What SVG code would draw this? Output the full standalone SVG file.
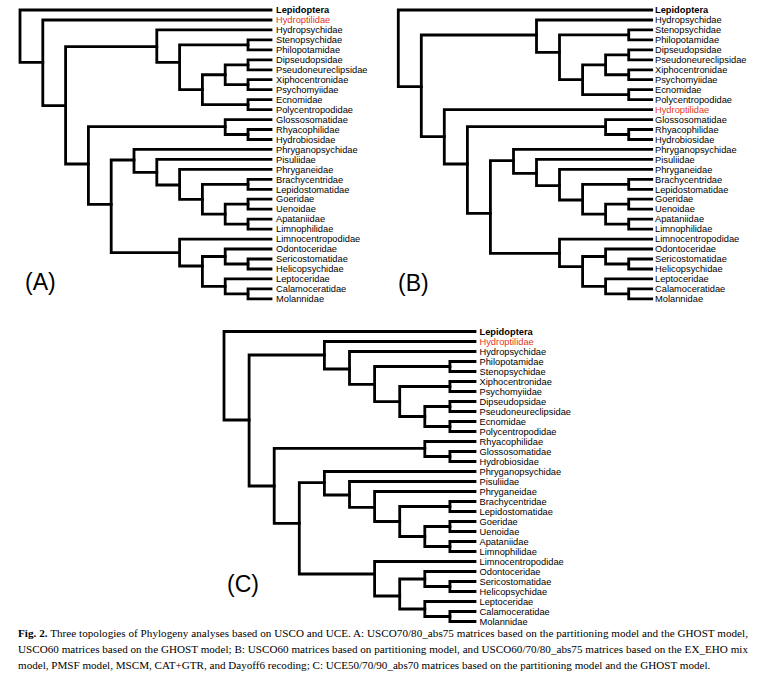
<svg xmlns="http://www.w3.org/2000/svg" width="765" height="689" viewBox="0 0 765 689">
<style>
.br{fill:none;stroke:#000;stroke-width:2.8;stroke-linejoin:miter;stroke-linecap:square}
.lf{font-family:"Liberation Sans",Arial,sans-serif;font-size:9.3px;fill:#000}
.out{font-weight:bold}
.red{fill:#e5361f}
.pl{font-family:"Liberation Sans",Arial,sans-serif;font-size:23px;fill:#000}
.cap{font-family:"Liberation Serif","Times New Roman",serif;font-size:11.1px;fill:#000}
</style>
<rect width="765" height="689" fill="#fff"/>
<g id="A-branches" class="br">
<path d="M271 10 H20 V62.3 H42.8"/>
<path d="M271 20 H42.8 V105.7 H65.6"/>
<path d="M156.8 46.7 H65.6 V164 H88.4"/>
<path d="M271 29.9 H156.8 V62.3 H179.6"/>
<path d="M248 44.9 H179.6 V89.7 H202.4"/>
<path d="M225.2 74.75 H202.4 V104.6 H248"/>
<path d="M248 64.8 H225.2 V84.7 H248"/>
<path d="M271 39.9 H248 V49.8 H271"/>
<path d="M271 59.8 H248 V69.8 H271"/>
<path d="M271 79.7 H248 V89.7 H271"/>
<path d="M271 99.6 H248 V109.6 H271"/>
<path d="M225.2 126.7 H88.4 V204.3 H111.2"/>
<path d="M271 119.6 H225.2 V134.5 H248"/>
<path d="M271 129.5 H248 V139.5 H271"/>
<path d="M134 160 H111.2 V252.7 H179.6"/>
<path d="M271 149.4 H134 V172.3 H156.8"/>
<path d="M271 159.4 H156.8 V185 H179.6"/>
<path d="M271 169.4 H179.6 V199.3 H202.4"/>
<path d="M248 184.3 H202.4 V214.2 H225.2"/>
<path d="M248 204.2 H225.2 V224.15 H248"/>
<path d="M271 179.3 H248 V189.3 H271"/>
<path d="M271 199.2 H248 V209.2 H271"/>
<path d="M271 219.2 H248 V229.1 H271"/>
<path d="M271 239.1 H179.6 V266 H202.4"/>
<path d="M225.2 256.5 H202.4 V286.4 H225.2"/>
<path d="M271 249 H225.2 V264 H248"/>
<path d="M271 259 H248 V269 H271"/>
<path d="M271 278.9 H225.2 V293.85 H248"/>
<path d="M271 288.9 H248 V298.8 H271"/>
</g>
<g id="A-leaves" class="lf">
<g id="A-Lepidoptera"><text x="276" y="13.2" class="out">Lepidoptera</text></g>
<g id="A-Hydroptilidae"><text x="276" y="23.2" class="red">Hydroptilidae</text></g>
<g id="A-Hydropsychidae"><text x="276" y="33.1">Hydropsychidae</text></g>
<g id="A-Stenopsychidae"><text x="276" y="43.1">Stenopsychidae</text></g>
<g id="A-Philopotamidae"><text x="276" y="53">Philopotamidae</text></g>
<g id="A-Dipseudopsidae"><text x="276" y="63">Dipseudopsidae</text></g>
<g id="A-Pseudoneureclipsidae"><text x="276" y="73">Pseudoneureclipsidae</text></g>
<g id="A-Xiphocentronidae"><text x="276" y="82.9">Xiphocentronidae</text></g>
<g id="A-Psychomyiidae"><text x="276" y="92.9">Psychomyiidae</text></g>
<g id="A-Ecnomidae"><text x="276" y="102.8">Ecnomidae</text></g>
<g id="A-Polycentropodidae"><text x="276" y="112.8">Polycentropodidae</text></g>
<g id="A-Glossosomatidae"><text x="276" y="122.8">Glossosomatidae</text></g>
<g id="A-Rhyacophilidae"><text x="276" y="132.7">Rhyacophilidae</text></g>
<g id="A-Hydrobiosidae"><text x="276" y="142.7">Hydrobiosidae</text></g>
<g id="A-Phryganopsychidae"><text x="276" y="152.6">Phryganopsychidae</text></g>
<g id="A-Pisuliidae"><text x="276" y="162.6">Pisuliidae</text></g>
<g id="A-Phryganeidae"><text x="276" y="172.6">Phryganeidae</text></g>
<g id="A-Brachycentridae"><text x="276" y="182.5">Brachycentridae</text></g>
<g id="A-Lepidostomatidae"><text x="276" y="192.5">Lepidostomatidae</text></g>
<g id="A-Goeridae"><text x="276" y="202.4">Goeridae</text></g>
<g id="A-Uenoidae"><text x="276" y="212.4">Uenoidae</text></g>
<g id="A-Apataniidae"><text x="276" y="222.4">Apataniidae</text></g>
<g id="A-Limnophilidae"><text x="276" y="232.3">Limnophilidae</text></g>
<g id="A-Limnocentropodidae"><text x="276" y="242.3">Limnocentropodidae</text></g>
<g id="A-Odontoceridae"><text x="276" y="252.2">Odontoceridae</text></g>
<g id="A-Sericostomatidae"><text x="276" y="262.2">Sericostomatidae</text></g>
<g id="A-Helicopsychidae"><text x="276" y="272.2">Helicopsychidae</text></g>
<g id="A-Leptoceridae"><text x="276" y="282.1">Leptoceridae</text></g>
<g id="A-Calamoceratidae"><text x="276" y="292.1">Calamoceratidae</text></g>
<g id="A-Molannidae"><text x="276" y="302">Molannidae</text></g>
</g>
<g id="A-label"><text x="25" y="290" class="pl">(A)</text></g>

<g id="B-branches" class="br">
<path d="M651.7 10 H398.3 V86.7 H421.3"/>
<path d="M536.5 35 H421.3 V136.7 H444.3"/>
<path d="M651.7 20 H536.5 V52.3 H559.5"/>
<path d="M628.7 34.9 H559.5 V79.7 H582.6"/>
<path d="M605.6 64.8 H582.6 V94.65 H628.7"/>
<path d="M628.7 54.8 H605.6 V74.75 H628.7"/>
<path d="M651.7 29.9 H628.7 V39.9 H651.7"/>
<path d="M651.7 49.8 H628.7 V59.8 H651.7"/>
<path d="M651.7 69.8 H628.7 V79.7 H651.7"/>
<path d="M651.7 89.7 H628.7 V99.6 H651.7"/>
<path d="M651.7 109.6 H444.3 V164 H467.4"/>
<path d="M605.6 126.7 H467.4 V213.3 H490.4"/>
<path d="M651.7 119.6 H605.6 V134.5 H628.7"/>
<path d="M651.7 129.5 H628.7 V139.5 H651.7"/>
<path d="M513.5 160.7 H490.4 V253.3 H559.5"/>
<path d="M651.7 149.4 H513.5 V173.3 H536.5"/>
<path d="M651.7 159.4 H536.5 V185.7 H559.5"/>
<path d="M651.7 169.4 H559.5 V200 H582.6"/>
<path d="M628.7 184.3 H582.6 V214.2 H605.6"/>
<path d="M628.7 204.2 H605.6 V224.15 H628.7"/>
<path d="M651.7 179.3 H628.7 V189.3 H651.7"/>
<path d="M651.7 199.2 H628.7 V209.2 H651.7"/>
<path d="M651.7 219.2 H628.7 V229.1 H651.7"/>
<path d="M651.7 239.1 H559.5 V266.7 H582.6"/>
<path d="M605.6 256.5 H582.6 V286.4 H605.6"/>
<path d="M651.7 249 H605.6 V264 H628.7"/>
<path d="M651.7 259 H628.7 V269 H651.7"/>
<path d="M651.7 278.9 H605.6 V293.85 H628.7"/>
<path d="M651.7 288.9 H628.7 V298.8 H651.7"/>
</g>
<g id="B-leaves" class="lf">
<g id="B-Lepidoptera"><text x="655" y="13.2" class="out">Lepidoptera</text></g>
<g id="B-Hydropsychidae"><text x="655" y="23.2">Hydropsychidae</text></g>
<g id="B-Stenopsychidae"><text x="655" y="33.1">Stenopsychidae</text></g>
<g id="B-Philopotamidae"><text x="655" y="43.1">Philopotamidae</text></g>
<g id="B-Dipseudopsidae"><text x="655" y="53">Dipseudopsidae</text></g>
<g id="B-Pseudoneureclipsidae"><text x="655" y="63">Pseudoneureclipsidae</text></g>
<g id="B-Xiphocentronidae"><text x="655" y="73">Xiphocentronidae</text></g>
<g id="B-Psychomyiidae"><text x="655" y="82.9">Psychomyiidae</text></g>
<g id="B-Ecnomidae"><text x="655" y="92.9">Ecnomidae</text></g>
<g id="B-Polycentropodidae"><text x="655" y="102.8">Polycentropodidae</text></g>
<g id="B-Hydroptilidae"><text x="655" y="112.8" class="red">Hydroptilidae</text></g>
<g id="B-Glossosomatidae"><text x="655" y="122.8">Glossosomatidae</text></g>
<g id="B-Rhyacophilidae"><text x="655" y="132.7">Rhyacophilidae</text></g>
<g id="B-Hydrobiosidae"><text x="655" y="142.7">Hydrobiosidae</text></g>
<g id="B-Phryganopsychidae"><text x="655" y="152.6">Phryganopsychidae</text></g>
<g id="B-Pisuliidae"><text x="655" y="162.6">Pisuliidae</text></g>
<g id="B-Phryganeidae"><text x="655" y="172.6">Phryganeidae</text></g>
<g id="B-Brachycentridae"><text x="655" y="182.5">Brachycentridae</text></g>
<g id="B-Lepidostomatidae"><text x="655" y="192.5">Lepidostomatidae</text></g>
<g id="B-Goeridae"><text x="655" y="202.4">Goeridae</text></g>
<g id="B-Uenoidae"><text x="655" y="212.4">Uenoidae</text></g>
<g id="B-Apataniidae"><text x="655" y="222.4">Apataniidae</text></g>
<g id="B-Limnophilidae"><text x="655" y="232.3">Limnophilidae</text></g>
<g id="B-Limnocentropodidae"><text x="655" y="242.3">Limnocentropodidae</text></g>
<g id="B-Odontoceridae"><text x="655" y="252.2">Odontoceridae</text></g>
<g id="B-Sericostomatidae"><text x="655" y="262.2">Sericostomatidae</text></g>
<g id="B-Helicopsychidae"><text x="655" y="272.2">Helicopsychidae</text></g>
<g id="B-Leptoceridae"><text x="655" y="282.1">Leptoceridae</text></g>
<g id="B-Calamoceratidae"><text x="655" y="292.1">Calamoceratidae</text></g>
<g id="B-Molannidae"><text x="655" y="302">Molannidae</text></g>
</g>
<g id="B-label"><text x="398" y="291" class="pl">(B)</text></g>

<g id="C-branches" class="br">
<path d="M475 331.5 H224 V420 H249.1"/>
<path d="M324.4 355 H249.1 V486 H274.2"/>
<path d="M475 341.5 H324.4 V369 H349.5"/>
<path d="M475 351.5 H349.5 V384.3 H374.6"/>
<path d="M449.9 366.5 H374.6 V401.7 H399.7"/>
<path d="M449.9 386.5 H399.7 V416.5 H424.8"/>
<path d="M449.9 406.5 H424.8 V426.5 H449.9"/>
<path d="M475 361.5 H449.9 V371.5 H475"/>
<path d="M475 381.5 H449.9 V391.5 H475"/>
<path d="M475 401.5 H449.9 V411.5 H475"/>
<path d="M475 421.5 H449.9 V431.5 H475"/>
<path d="M424.8 448.3 H274.2 V523.3 H299.3"/>
<path d="M475 441.5 H424.8 V456.5 H449.9"/>
<path d="M475 451.5 H449.9 V461.5 H475"/>
<path d="M324.4 482.7 H299.3 V574 H374.6"/>
<path d="M475 471.5 H324.4 V495 H349.5"/>
<path d="M475 481.5 H349.5 V507.3 H374.6"/>
<path d="M475 491.5 H374.6 V521.5 H399.7"/>
<path d="M449.9 506.5 H399.7 V536.5 H424.8"/>
<path d="M449.9 526.5 H424.8 V546.5 H449.9"/>
<path d="M475 501.5 H449.9 V511.5 H475"/>
<path d="M475 521.5 H449.9 V531.5 H475"/>
<path d="M475 541.5 H449.9 V551.5 H475"/>
<path d="M475 561.5 H374.6 V596 H399.7"/>
<path d="M424.8 579 H399.7 V609 H424.8"/>
<path d="M475 571.5 H424.8 V586.5 H449.9"/>
<path d="M475 581.5 H449.9 V591.5 H475"/>
<path d="M475 601.5 H424.8 V616.5 H449.9"/>
<path d="M475 611.5 H449.9 V621.5 H475"/>
</g>
<g id="C-leaves" class="lf">
<g id="C-Lepidoptera"><text x="479.5" y="334.7" class="out">Lepidoptera</text></g>
<g id="C-Hydroptilidae"><text x="479.5" y="344.7" class="red">Hydroptilidae</text></g>
<g id="C-Hydropsychidae"><text x="479.5" y="354.7">Hydropsychidae</text></g>
<g id="C-Philopotamidae"><text x="479.5" y="364.7">Philopotamidae</text></g>
<g id="C-Stenopsychidae"><text x="479.5" y="374.7">Stenopsychidae</text></g>
<g id="C-Xiphocentronidae"><text x="479.5" y="384.7">Xiphocentronidae</text></g>
<g id="C-Psychomyiidae"><text x="479.5" y="394.7">Psychomyiidae</text></g>
<g id="C-Dipseudopsidae"><text x="479.5" y="404.7">Dipseudopsidae</text></g>
<g id="C-Pseudoneureclipsidae"><text x="479.5" y="414.7">Pseudoneureclipsidae</text></g>
<g id="C-Ecnomidae"><text x="479.5" y="424.7">Ecnomidae</text></g>
<g id="C-Polycentropodidae"><text x="479.5" y="434.7">Polycentropodidae</text></g>
<g id="C-Rhyacophilidae"><text x="479.5" y="444.7">Rhyacophilidae</text></g>
<g id="C-Glossosomatidae"><text x="479.5" y="454.7">Glossosomatidae</text></g>
<g id="C-Hydrobiosidae"><text x="479.5" y="464.7">Hydrobiosidae</text></g>
<g id="C-Phryganopsychidae"><text x="479.5" y="474.7">Phryganopsychidae</text></g>
<g id="C-Pisuliidae"><text x="479.5" y="484.7">Pisuliidae</text></g>
<g id="C-Phryganeidae"><text x="479.5" y="494.7">Phryganeidae</text></g>
<g id="C-Brachycentridae"><text x="479.5" y="504.7">Brachycentridae</text></g>
<g id="C-Lepidostomatidae"><text x="479.5" y="514.7">Lepidostomatidae</text></g>
<g id="C-Goeridae"><text x="479.5" y="524.7">Goeridae</text></g>
<g id="C-Uenoidae"><text x="479.5" y="534.7">Uenoidae</text></g>
<g id="C-Apataniidae"><text x="479.5" y="544.7">Apataniidae</text></g>
<g id="C-Limnophilidae"><text x="479.5" y="554.7">Limnophilidae</text></g>
<g id="C-Limnocentropodidae"><text x="479.5" y="564.7">Limnocentropodidae</text></g>
<g id="C-Odontoceridae"><text x="479.5" y="574.7">Odontoceridae</text></g>
<g id="C-Sericostomatidae"><text x="479.5" y="584.7">Sericostomatidae</text></g>
<g id="C-Helicopsychidae"><text x="479.5" y="594.7">Helicopsychidae</text></g>
<g id="C-Leptoceridae"><text x="479.5" y="604.7">Leptoceridae</text></g>
<g id="C-Calamoceratidae"><text x="479.5" y="614.7">Calamoceratidae</text></g>
<g id="C-Molannidae"><text x="479.5" y="624.7">Molannidae</text></g>
</g>
<g id="C-label"><text x="227" y="592" class="pl">(C)</text></g>

<g id="caption" class="cap">
<text x="18" y="637" textLength="730" lengthAdjust="spacing"><tspan font-weight="bold">Fig. 2.</tspan>  Three topologies of Phylogeny analyses based on USCO and UCE. A: USCO70/80_abs75 matrices based on the partitioning model and the GHOST model,</text>
<text x="18" y="653" textLength="730" lengthAdjust="spacing">USCO60 matrices based on the GHOST model; B: USCO60 matrices based on partitioning model, and USCO60/70/80_abs75 matrices based on the EX_EHO mix</text>
<text x="18" y="669">model, PMSF model, MSCM, CAT+GTR, and Dayoff6 recoding; C: UCE50/70/90_abs70 matrices based on the partitioning model and the GHOST model.</text>
</g>
</svg>
